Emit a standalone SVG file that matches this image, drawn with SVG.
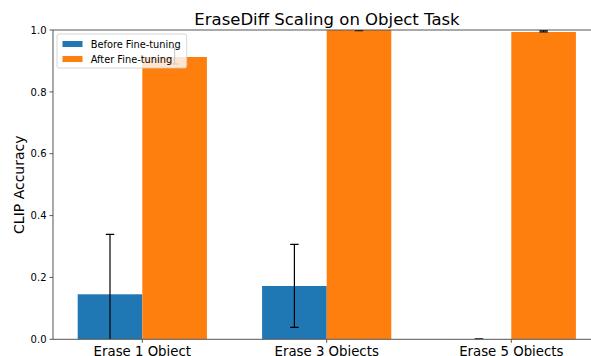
<svg xmlns="http://www.w3.org/2000/svg" width="591" height="356" viewBox="0 0 591 356">
  <style>
    text { font-family: "DejaVu Sans", "Liberation Sans", sans-serif; fill: #000; }
    .title { font-size: 16.5px; text-anchor: middle; }
    .ytick { font-size: 10px; text-anchor: end; }
    .xtick { font-size: 13.3px; text-anchor: middle; }
    .ylabel { font-size: 14px; text-anchor: middle; }
    .legend-text { font-size: 9.8px; }
    .spine { stroke: #555; stroke-width: 1; fill: none; }
    .tick { stroke: #555; stroke-width: 1; }
    .before { fill: #1f77b4; }
    .after { fill: #ff7f0e; }
    .err { stroke: #000; stroke-width: 1.2; fill: none; }
  </style>
  <defs>
    <clipPath id="axes-clip">
      <rect x="53" y="30" width="548" height="309.3"/>
    </clipPath>
  </defs>
  <rect width="591" height="356" fill="#fff"/>

  <!-- title -->
  <text class="title" x="327" y="25">EraseDiff Scaling on Object Task</text>

  <!-- bars -->
  <g id="bars" clip-path="url(#axes-clip)">
    <g id="bar-before-1"><rect class="before" x="77.7" y="294.3" width="64.6" height="45"/></g>
    <g id="bar-after-1"><rect class="after" x="142.3" y="57" width="64.6" height="282.3"/></g>
    <g id="bar-before-3"><rect class="before" x="262.1" y="286" width="64.6" height="53.3"/></g>
    <g id="bar-after-3"><rect class="after" x="326.7" y="30" width="64.6" height="309.3"/></g>
    <g id="bar-before-5"><rect class="before" x="446.6" y="339" width="64.6" height="0.3"/></g>
    <g id="bar-after-5"><rect class="after" x="511.3" y="32" width="64.6" height="307.3"/></g>
  </g>

  <!-- error bars -->
  <g id="errorbars" class="err" clip-path="url(#axes-clip)">
    <path d="M110 234.3 V339.3 M105.8 234.3 H114.2"/>
    <path d="M174.6 48 V64 M170.4 48 H178.8 M170.4 64 H178.8"/>
    <path d="M294.4 244.3 V327.3 M290.2 244.3 H298.6 M290.2 327.3 H298.6"/>
    <path d="M359 30 V31 M354.8 30.6 H363.2"/>
    <path d="M479 338.6 V339.3 M474.8 338.8 H483.2"/>
    <path d="M543.6 30.3 V32.4 M539.4 30.6 H547.8 M539.4 32 H547.8"/>
  </g>

  <!-- axes frame and ticks -->
  <g id="axes">
    <path class="spine" d="M53 30 V339.3 H591 M53 30 H591"/>
    <g class="tick">
      <path d="M49.5 339.3 H53 M49.5 277.4 H53 M49.5 215.6 H53 M49.5 153.7 H53 M49.5 91.9 H53 M49.5 30 H53"/>
      <path d="M142.3 339.3 V342.8 M326.7 339.3 V342.8 M511.3 339.3 V342.8"/>
    </g>
    <text class="ytick" x="46.5" y="342.9">0.0</text>
    <text class="ytick" x="46.5" y="281">0.2</text>
    <text class="ytick" x="46.5" y="219.2">0.4</text>
    <text class="ytick" x="46.5" y="157.3">0.6</text>
    <text class="ytick" x="46.5" y="95.5">0.8</text>
    <text class="ytick" x="46.5" y="33.6">1.0</text>
    <text class="xtick" x="142.3" y="355.5">Erase 1 Object</text>
    <text class="xtick" x="326.7" y="355.5">Erase 3 Objects</text>
    <text class="xtick" x="511.3" y="355.5">Erase 5 Objects</text>
    <text class="ylabel" transform="translate(23.5 184.7) rotate(-90)">CLIP Accuracy</text>
  </g>

  <!-- legend -->
  <g id="legend">
    <rect x="57" y="34" width="129.7" height="34" rx="2" fill="#fff" fill-opacity="0.8" stroke="#ccc" stroke-width="0.8"/>
    <rect class="before" x="62.5" y="41" width="20" height="6"/>
    <text class="legend-text" x="90.7" y="47.7">Before Fine-tuning</text>
    <rect class="after" x="62.5" y="56" width="20" height="6"/>
    <text class="legend-text" x="90.7" y="62.5">After Fine-tuning</text>
  </g>
</svg>
